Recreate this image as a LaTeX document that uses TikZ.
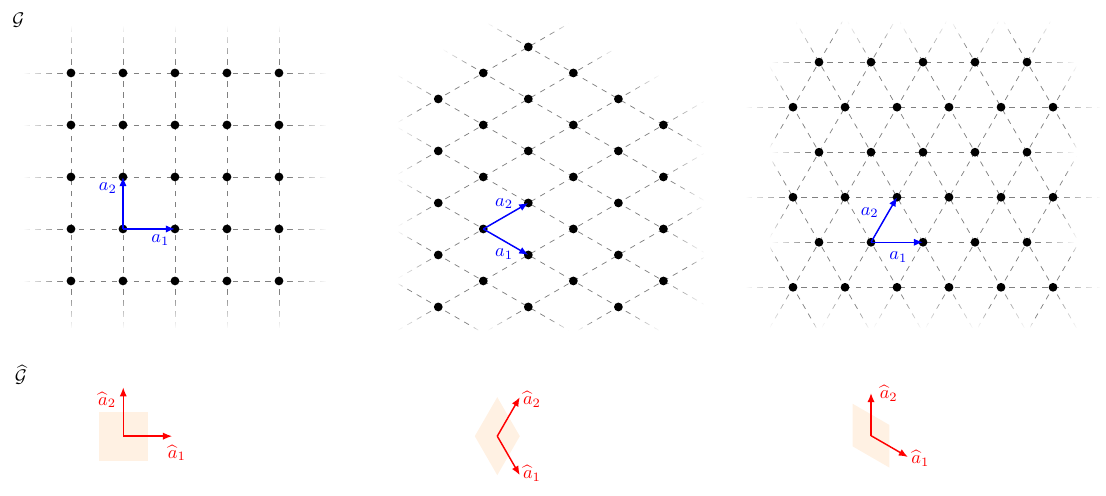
\documentclass[tikz,border=0pt]{standalone}
\usepackage{amsmath,amssymb}
\usetikzlibrary{arrows.meta,calc,fadings}

% fadings for the lattice lines (ends fade out)
\pgfdeclarehorizontalshading{hfadeshade}{100bp}{color(0bp)=(black); color(25bp)=(black); color(31bp)=(white); color(69bp)=(white); color(75bp)=(black); color(100bp)=(black)}
\pgfdeclarefading{hfade}{\pgfuseshading{hfadeshade}}
\pgfdeclareverticalshading{vfadeshade}{100bp}{color(0bp)=(black); color(25bp)=(black); color(31bp)=(white); color(69bp)=(white); color(75bp)=(black); color(100bp)=(black)}
\pgfdeclarefading{vfade}{\pgfuseshading{vfadeshade}}

\begin{document}
\begin{tikzpicture}
        \tikzset{latline/.style={dashed, gray, line width=0.4pt},
            dot/.style={circle, fill=black, inner sep=0pt, minimum size=4.8pt},
            vec/.style={blue, thick, -{Latex[length=5pt,width=4pt]}},
            dvec/.style={red, thick, -{Latex[length=5pt,width=4pt]}},
            cell/.style={fill=orange!11}}
        \useasboundingbox (0,0) rectangle (21.269,9.538);
        % Titles
        \node (g)  at (0.352,9.154) {$\mathcal{G}$};
        \node (gh) at (0.40,2.33)   {$\widehat{\mathcal{G}}$};
        % Square lattice
        \begin{scope}[shift={(2.365,5.135)}]
          \foreach \k in {-1,...,3}{
            \draw[latline, path fading=hfade] (-1.9,\k) -- (3.9,\k) +(0pt,2pt) +(0pt,-2pt);
            \draw[latline, path fading=vfade] (\k,-1.9) -- (\k,3.9) +(2pt,0pt) +(-2pt,0pt);
          }
          \foreach \i in {-1,...,3}
            \foreach \j in {-1,...,3}
              \node[dot] (s\i\j) at (\i,\j) {};
          \draw[vec] (s00.center) -- (s10.center);
          \draw[vec] (s00.center) -- (s01.center);
          \node[blue] (sa1) at (0.72,-0.21) {$a_1$};
          \node[blue] (sa2) at (-0.29,0.79) {$a_2$};
        \end{scope}
        % Rhombic lattice
        \begin{scope}[shift={(9.294,5.135)}]
          \begin{scope}[x={(0.866cm,-0.5cm)}, y={(0.866cm,0.5cm)}]
            \foreach \j/\ia/\ib in {-2/1/1, -1/0/2, 0/-1/3, 1/-2/3, 2/-3/2, 3/-3/1, 4/-3/0}
              \draw[latline, path fading=hfade] (\ia-0.9,\j) -- (\ib+0.9,\j);
            \foreach \i/\ja/\jb in {-3/2/4, -2/1/4, -1/0/4, 0/-1/4, 1/-2/3, 2/-1/2, 3/0/1}
              \draw[latline, path fading=hfade] (\i,\ja-0.9) -- (\i,\jb+0.9);
            \foreach \j/\ia/\ib in {-2/1/1, -1/0/2, 0/-1/3, 1/-2/3, 2/-3/2, 3/-3/1, 4/-3/0}
              \foreach \i in {\ia,...,\ib}
                \node[dot] (m\i\j) at (\i,\j) {};
          \end{scope}
          \draw[vec] (m00.center) -- (m10.center);
          \draw[vec] (m00.center) -- (m01.center);
          \node[blue] (ma1) at (0.40,-0.48) {$a_1$};
          \node[blue] (ma2) at (0.40,0.49)  {$a_2$};
        \end{scope}
        % Triangular lattice
        \begin{scope}[shift={(16.75,4.879)}]
          \begin{scope}[x={(1cm,0cm)}, y={(0.5cm,0.866cm)}]
            \foreach \j/\ia/\ib in {-1/-1/4, 0/-1/3, 1/-2/3, 2/-2/2, 3/-3/2, 4/-3/1}
              \draw[latline, path fading=hfade] (\ia-0.9,\j) -- (\ib+0.9,\j) +(0pt,2pt) +(0pt,-2pt);
            \foreach \i/\ja/\jb in {-3/3/4, -2/1/4, -1/-1/4, 0/-1/4, 1/-1/4, 2/-1/3, 3/-1/1, 4/-1/-1}
              \draw[latline, path fading=hfade] (\i,\ja-0.9) -- (\i,\jb+0.9);
            \foreach \m/\ja/\jb in {-2/-1/-1, -1/-1/1, 0/-1/3, 1/-1/4, 2/-1/4, 3/-1/4, 4/1/4, 5/3/4}
              \draw[latline, path fading=hfade] (\m-\ja+0.9,\ja-0.9) -- (\m-\jb-0.9,\jb+0.9);
            \foreach \j/\ia/\ib in {-1/-1/4, 0/-1/3, 1/-2/3, 2/-2/2, 3/-3/2, 4/-3/1}
              \foreach \i in {\ia,...,\ib}
                \node[dot] (t\i\j) at (\i,\j) {};
          \end{scope}
          \draw[vec] (t00.center) -- (t10.center);
          \draw[vec] (t00.center) -- (t01.center);
          \node[blue] (ta1) at (0.525,-0.28) {$a_1$};
          \node[blue] (ta2) at (-0.025,0.57) {$a_2$};
        \end{scope}
        % Dual cells
        \begin{scope}[shift={(2.37,1.15)}]
          \fill[cell] (-0.47,-0.47) rectangle (0.47,0.47);
          \coordinate (so) at (0,0);
          \coordinate (sb1) at (0.94,0);
          \coordinate (sb2) at (0,0.94);
          \draw[dvec] (so) -- (sb1);
          \draw[dvec] (so) -- (sb2);
          \node[red] (sh1) at (1.03,-0.32) {$\widehat{a}_1$};
          \node[red] (sh2) at (-0.31,0.70) {$\widehat{a}_2$};
        \end{scope}
        \begin{scope}[shift={(9.563,1.15)}]
          \fill[cell] (0.433,0) -- (0,0.75) -- (-0.433,0) -- (0,-0.75) -- cycle;
          \coordinate (mo) at (0,0);
          \coordinate (mb1) at (0.433,-0.75);
          \coordinate (mb2) at (0.433,0.75);
          \draw[dvec] (mo) -- (mb1);
          \draw[dvec] (mo) -- (mb2);
          \node[red] (mh1) at (0.667,-0.71) {$\widehat{a}_1$};
          \node[red] (mh2) at (0.667,0.71)  {$\widehat{a}_2$};
        \end{scope}
        \begin{scope}[shift={(16.75,1.16)}]
          \fill[cell] (0.355,0.205) -- (-0.355,0.615) -- (-0.355,-0.205) -- (0.355,-0.615) -- cycle;
          \coordinate (to) at (0,0);
          \coordinate (tb1) at (0.71,-0.41);
          \coordinate (tb2) at (0,0.82);
          \draw[dvec] (to) -- (tb1);
          \draw[dvec] (to) -- (tb2);
          \node[red] (th1) at (0.95,-0.435) {$\widehat{a}_1$};
          \node[red] (th2) at (0.34,0.815)  {$\widehat{a}_2$};
        \end{scope}
      \end{tikzpicture}
\end{document}
